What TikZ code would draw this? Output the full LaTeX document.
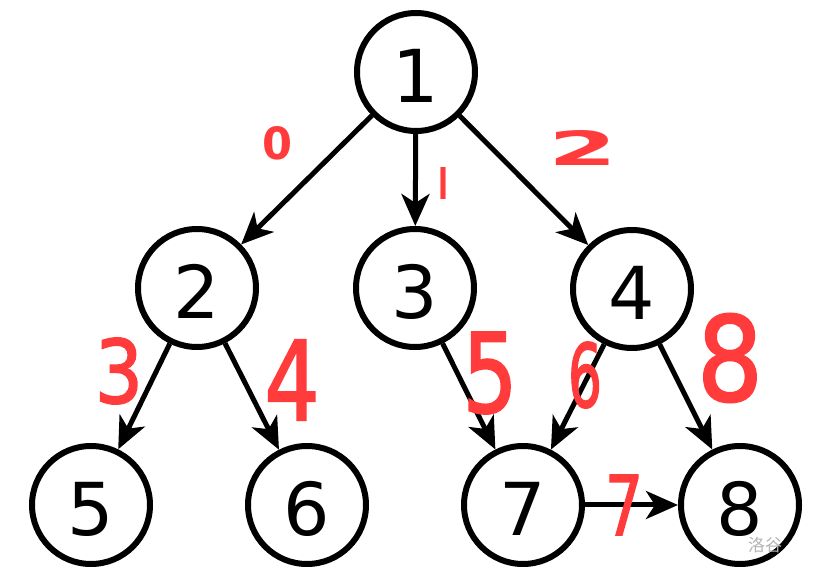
\documentclass[tikz,border=0pt]{standalone}
\usepackage{fontspec}
\usepackage{graphicx}
\setmainfont{DejaVu Sans}
\newfontfamily\cjk{Noto Sans CJK SC}
\newfontfamily\handfont[FakeBold=2]{DejaVu Sans}
\usetikzlibrary{arrows.meta}
\definecolor{hand}{HTML}{FF3B3B}
\definecolor{wm}{HTML}{B4B4B4}
\tikzset{
  vertex/.style={circle, draw=black, line width=6pt, minimum size=118pt, inner sep=0pt,
    text height=61pt, text depth=0pt, font=\fontsize{73}{73}\selectfont},
  edge/.style={line width=5pt, -{Stealth[length=32pt, width=28pt, inset=9pt]}},
  redlab/.style={text=hand, inner sep=0pt, font=\handfont\fontsize{60}{60}\selectfont},
  redbold/.style={redlab, font=\fontsize{60}{60}\selectfont\bfseries},
}
\begin{document}
\begin{tikzpicture}[x=1pt, y=-1pt]
\useasboundingbox[fill=white] (0,0) rectangle (839,585);
\node[vertex] (n1) at (416,72) {1};
\node[vertex] (n2) at (197,288) {2};
\node[vertex] (n3) at (415,288) {3};
\node[vertex] (n4) at (632,289) {4};
\node[vertex] (n5) at (91,505) {5};
\node[vertex] (n6) at (307,505) {6};
\node[vertex] (n7) at (523,505) {7};
\node[vertex] (n8) at (740,505) {8};
\draw[edge] (n1) -- (n2);
\draw[edge] (n1) -- (n3);
\draw[edge] (n1) -- (n4);
\draw[edge] (n2) -- (n5);
\draw[edge] (n2) -- (n6);
\draw[edge] (n3) -- (n7);
\draw[edge] (n4) -- (n7);
\draw[edge] (n4) -- (n8);
\draw[edge] (n7) -- (n8);
\node[redbold] (l0) at (277,143) {\resizebox{30pt}{33pt}{0}};
\node[redbold] (l1) at (443,184) {\resizebox{10pt}{32pt}{l}};
\node[redbold] (l2) at (583,148) {\resizebox{69pt}{35pt}{2}};
\node[redlab] (l3) at (119,371) {\resizebox{48pt}{65pt}{3}};
\node[redlab] (l4) at (292,380) {\resizebox{55pt}{80pt}{4}};
\node[redlab] (l5) at (490,373) {\resizebox{55pt}{80pt}{5}};
\node[redlab] (l6) at (585,375) {\resizebox{34pt}{65pt}{6}};
\node[redlab] (l8) at (730,358) {\resizebox{66pt}{87pt}{8}};
\node[redlab] (l7) at (624,505) {\resizebox{38pt}{60pt}{7}};
\node[text=wm, inner sep=0pt, font=\cjk\fontsize{17}{17}\selectfont] (wm) at (765,545) {洛谷};
\end{tikzpicture}
\end{document}
